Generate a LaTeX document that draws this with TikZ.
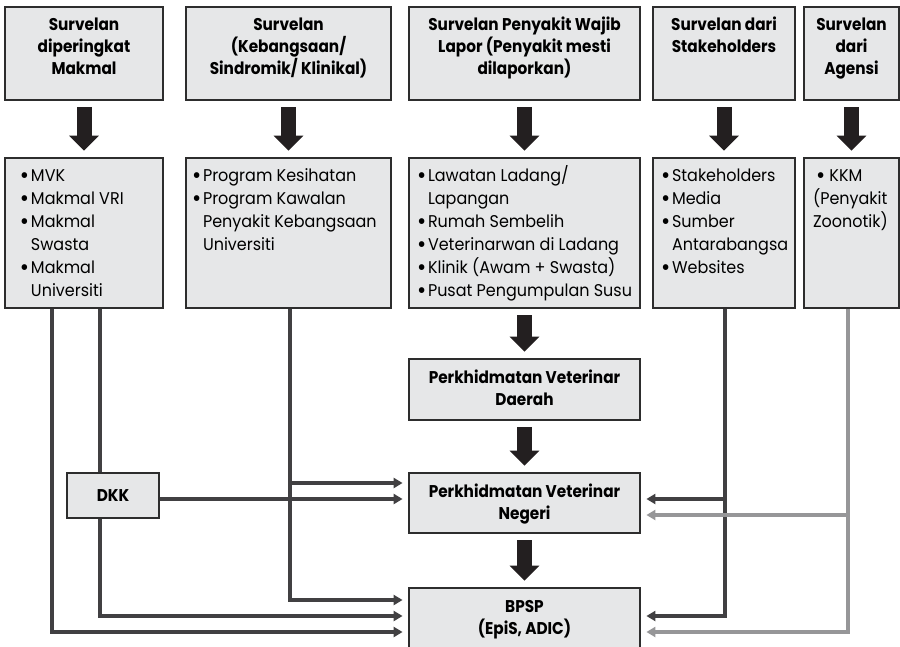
\documentclass[tikz,border=0pt]{standalone}
\usepackage{fontspec}
\setmainfont{Poppins}[FakeStretch=0.94, BoldFeatures={FakeStretch=0.9}]
\usepackage{xcolor}
\usetikzlibrary{arrows.meta}

\definecolor{boxfill}{RGB}{230,231,232}
\definecolor{edge}{RGB}{45,45,45}
\definecolor{linedark}{RGB}{65,64,66}
\definecolor{linelight}{RGB}{150,150,152}
\definecolor{arrowblack}{RGB}{35,31,32}

\newcommand{\bdot}{\raisebox{-1.6pt}{\scalebox{1.4}{\textbullet}}}
\newcommand{\bitem}{\makebox[11pt][l]{\bdot}}
\newcommand{\bcont}{\hspace*{11pt}}

\tikzset{
  head/.style 2 args={draw=edge, fill=boxfill, line width=2.8pt, inner sep=0pt,
    font=\bfseries\fontsize{17}{22}\selectfont,
    execute at begin node={\begin{minipage}[t][#2][t]{#1}\centering\rule{0pt}{24pt}},
    execute at end node={\end{minipage}}},
  list/.style 2 args={draw=edge, fill=boxfill, line width=2.8pt, inner sep=0pt,
    font=\fontsize{17}{23}\selectfont,
    execute at begin node={\begin{minipage}[t][150pt][t]{#1}\raggedright\leftskip=#2\relax\rule{0pt}{24pt}},
    execute at end node={\end{minipage}}},
  fat/.style={draw=arrowblack, line width=15pt, shorten <=6pt, shorten >=6pt,
    -{Triangle[length=15pt,width=29pt]}},
  link/.style={draw=linedark, line width=3.8pt, shorten >=5pt,
    -{Triangle[length=9pt,width=10pt]}},
  plain/.style={draw=linedark, line width=3.8pt}
}

\begin{document}
\begin{tikzpicture}[x=1pt,y=-1pt]
\useasboundingbox (0,0) rectangle (900,647);

    % sumber survelan
    \node[head={158pt}{93pt}] (h1) at (84,53.5) {Survelan\\diperingkat\\Makmal};
    \node[head={205pt}{93pt}] (h2) at (288.5,53.5) {Survelan\\(Kebangsaan/\\Sindromik/ Klinikal)};
    \node[head={231pt}{93pt}] (h3) at (524.5,53.5) {Survelan Penyakit Wajib\\Lapor (Penyakit mesti\\dilaporkan)};
    \node[head={142pt}{93pt}] (h4) at (724,53.5) {Survelan dari\\Stakeholders};
    \node[head={95pt}{93pt}] (h5) at (851.5,53.5) {Survelan\\dari\\Agensi};

    \node[list={158pt}{15pt}] (l1) at (84,233) {\bitem MVK\\\bitem Makmal VRI\\\bitem Makmal\\\bcont Swasta\\\bitem Makmal\\\bcont Universiti};
    \node[list={205pt}{6pt}] (l2) at (288.5,233) {\bitem Program Kesihatan\\\bitem Program Kawalan\\\bcont Penyakit Kebangsaan\\\bcont Universiti};
    \node[list={231pt}{8pt}] (l3) at (524.5,233) {\bitem Lawatan Ladang/\\\bcont Lapangan\\\bitem Rumah Sembelih\\\bitem Veterinarwan di Ladang\\\bitem Klinik (Awam + Swasta)\\\bitem Pusat Pengumpulan Susu};
    \node[list={142pt}{8pt}] (l4) at (724,233) {\bitem Stakeholders\\\bitem Media\\\bitem Sumber\\\bcont Antarabangsa\\\bitem Websites};
    \node[list={95pt}{9pt}] (l5) at (851.5,233) {\hspace*{3pt}\bdot\ KKM\\(Penyakit\\Zoonotik)};

    % aliran laporan
    \node[head={231pt}{61pt}] (day) at (524.5,389.5) {Perkhidmatan Veterinar\\Daerah};
    \node[head={231pt}{60pt}] (neg) at (524.5,503) {Perkhidmatan Veterinar\\Negeri};
    \node[head={231pt}{62pt}] (bpsp) at (524.5,619) {BPSP\\(EpiS, ADIC)};
    \node[draw=edge, fill=boxfill, line width=2.8pt, font=\bfseries\fontsize{17}{22}\selectfont,
          minimum width=92pt, minimum height=45pt] (dkk) at (113,495.5) {DKK};

    % anak panah besar
    \draw[fat] (h1.south) -- (l1.north);
    \draw[fat] (h2.south) -- (l2.north);
    \draw[fat] (h3.south) -- (l3.north);
    \draw[fat] (h4.south) -- (l4.north);
    \draw[fat] (h5.south) -- (l5.north);
    \draw[fat] (l3.south) -- (day.north);
    \draw[fat] (day.south) -- (neg.north);
    \draw[fat] (neg.south) -- (bpsp.north);

    % titik masuk
    \coordinate (nw1) at ([yshift=20pt]neg.west);
    \coordinate (nw2) at ([yshift=4pt]neg.west);
    \coordinate (ne2) at ([yshift=4pt]neg.east);
    \coordinate (ne3) at ([yshift=-12pt]neg.east);
    \coordinate (bw1) at ([yshift=19pt]bpsp.west);
    \coordinate (bw2) at ([yshift=3pt]bpsp.west);
    \coordinate (bw3) at ([yshift=-13pt]bpsp.west);
    \coordinate (be2) at ([yshift=3pt]bpsp.east);
    \coordinate (be3) at ([yshift=-13pt]bpsp.east);

    \coordinate (ta) at ([xshift=-32pt]l1.south);
    \coordinate (tb) at ([xshift=16pt]l1.south);
    \coordinate (tc) at ([xshift=1.5pt]l2.south);
    \coordinate (td) at ([xshift=1pt]l4.south);
    \coordinate (te) at ([xshift=-3.5pt]l5.south);

    % garisan
    \draw[link] (ta) |- (bw3);
    \draw[plain] (tb) -- (tb |- dkk.north);
    \draw[link] (tb |- dkk.south) |- (bw2);
    \draw[link] (tc) |- (bw1);
    \draw[link] (tc |- nw1) -- (nw1);
    \draw[link] (dkk.east |- nw2) -- (nw2);
    \draw[link] (td) |- (be2);
    \draw[link] (td |- ne2) -- (ne2);
    \draw[link, draw=linelight] (te) |- (be3);
    \draw[link, draw=linelight] (te |- ne3) -- (ne3);

\end{tikzpicture}
\end{document}
